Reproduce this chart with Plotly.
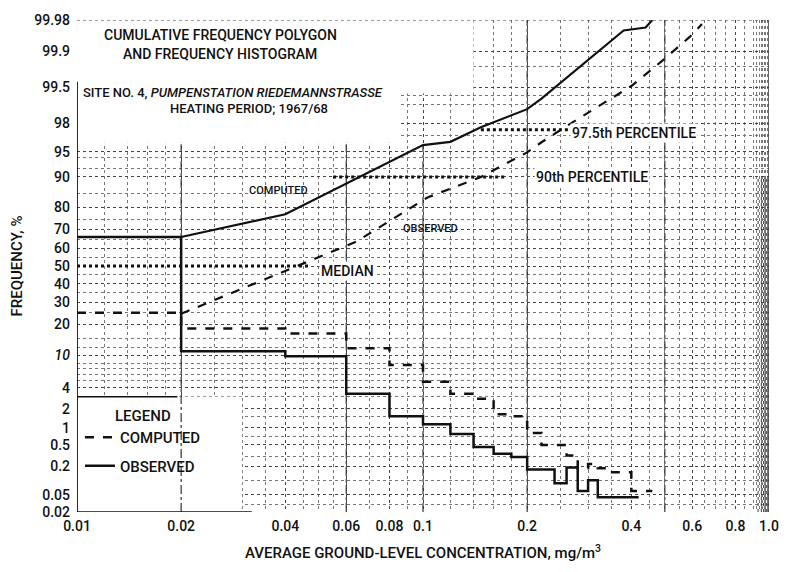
import plotly.graph_objects as go
from statistics import NormalDist

# ---------------- data ----------------
# frequency histogram, class edges (mg/m3) and frequency (%)
computed_edges = [0.01, 0.02, 0.04, 0.06, 0.08, 0.10, 0.12, 0.14, 0.16, 0.18, 0.20,
                  0.22, 0.26, 0.28, 0.30, 0.32, 0.34, 0.40, 0.46]
computed_freq = [25.0, 18.4, 16.6, 11.8, 7.7, 4.8, 3.3, 2.8, 1.64, 1.53, 0.81,
                 0.5, 0.32, 0.18, 0.22, 0.18, 0.15, 0.06]

observed_edges = [0.01, 0.02, 0.04, 0.06, 0.08, 0.10, 0.12, 0.14, 0.16, 0.18, 0.20,
                  0.24, 0.26, 0.28, 0.30, 0.32, 0.42]
observed_freq = [66.2, 11.0, 9.7, 3.3, 1.53, 1.14, 0.78, 0.46, 0.345, 0.30, 0.17,
                 0.088, 0.187, 0.06, 0.102, 0.044]

# cumulative frequency polygons (%)
upper_cum_x = [0.02, 0.04, 0.10, 0.12, 0.147, 0.20, 0.22, 0.32, 0.38, 0.44, 0.46]
upper_cum_y = [66.2, 77.2, 95.9, 96.3, 97.7, 98.8, 99.2, 99.9, 99.965, 99.97, 99.98]
lower_cum_x = [0.02, 0.064, 0.103, 0.147, 0.20, 0.22, 0.26, 0.40, 0.49, 0.59, 0.64]
lower_cum_y = [24.6, 63.6, 83.8, 90.0, 94.9, 96.25, 97.8, 99.52, 99.84, 99.951, 99.975]

# percentile reference lines
percentiles = [50.0, 90.0, 97.5]
percentile_x0 = [0.01, 0.055, 0.147]
percentile_x1 = [0.047, 0.175, 0.27]

# axis ticks
y_tick_pct = [0.02, 0.05, 0.2, 0.5, 1, 2, 4, 10, 20, 30, 40, 50, 60, 70, 80, 90, 95, 98, 99.5, 99.9, 99.98]
y_tick_text = ["0.02", "0.05", "0.2", "0.5", "1", "2", "4", "<i>10</i>", "20", "30", "40", "50",
               "60", "70", "80", "90", "95", "98", "99.5", "99.9", "99.98"]
y_minor_pct = [0.03, 0.1, 0.3, 0.7, 1.5, 3, 5, 6, 7, 8, 12, 15, 25, 35, 45, 55, 65, 75, 85,
               92, 94, 97, 99, 99.3, 99.8]
x_tick_vals = [0.01, 0.02, 0.04, 0.06, 0.08, 0.1, 0.2, 0.4, 0.6, 0.8, 1.0]
x_tick_text = ["0.01", "0.02", "0.04", "0.06", "0.08", "0.1", "0.2", "0.4", "0.6", "0.8", "1.0"]
x_minor_vals = [0.012, 0.014, 0.016, 0.018, 0.025, 0.03, 0.035, 0.045, 0.05, 0.055, 0.07, 0.09,
                0.12, 0.14, 0.16, 0.18, 0.25, 0.3, 0.35, 0.45, 0.5, 0.55, 0.65, 0.7, 0.75,
                0.85, 0.9, 0.92, 0.94, 0.95, 0.96, 0.97, 0.98, 0.99]

# ---------------- helpers ----------------
nd = NormalDist()


def zq(p):
    return nd.inv_cdf(p / 100.0)


ZMAX = zq(99.98)
FONT = "Roboto, Liberation Sans Narrow, sans-serif"
INK = "#111111"

fig = go.Figure()

# histograms (step lines)
fig.add_trace(go.Scatter(
    x=computed_edges, y=[zq(v) for v in computed_freq + [computed_freq[-1]]],
    mode="lines", line=dict(color=INK, width=2.5, dash="dash", shape="hv"),
    name="COMPUTED", legendgroup="a", hoverinfo="skip"))
fig.add_trace(go.Scatter(
    x=observed_edges, y=[zq(v) for v in observed_freq + [observed_freq[-1]]],
    mode="lines", line=dict(color=INK, width=2.5, shape="hv"),
    name="OBSERVED", legendgroup="b", hoverinfo="skip"))

# cumulative polygons
fig.add_trace(go.Scatter(
    x=upper_cum_x, y=[zq(v) for v in upper_cum_y], mode="lines",
    line=dict(color=INK, width=2.2), showlegend=False, hoverinfo="skip"))
fig.add_trace(go.Scatter(
    x=lower_cum_x, y=[zq(v) for v in lower_cum_y], mode="lines",
    line=dict(color=INK, width=2.2, dash="dash"), showlegend=False, hoverinfo="skip"))

# percentile lines
for p, a, b in zip(percentiles, percentile_x0, percentile_x1):
    fig.add_trace(go.Scatter(
        x=[a, b], y=[zq(p), zq(p)], mode="lines",
        line=dict(color=INK, width=3, dash="dot"), showlegend=False, hoverinfo="skip"))

shapes = []
# white blank areas (title + legend) hiding the paper grid
shapes.append(dict(type="rect", xref="x", yref="y", layer="between",
                   x0=0.01, x1=0.14, y0=zq(99.35), y1=ZMAX,
                   fillcolor="white", line_width=0))
shapes.append(dict(type="rect", xref="x", yref="y", layer="between",
                   x0=0.01, x1=0.085, y0=zq(96.2), y1=ZMAX,
                   fillcolor="white", line_width=0))
shapes.append(dict(type="rect", xref="x", yref="y", layer="between",
                   x0=0.01, x1=0.03, y0=-ZMAX, y1=zq(3.0),
                   fillcolor="white", line_width=0))
# top dotted border
shapes.append(dict(type="line", xref="x", yref="y", layer="between",
                   x0=0.01, x1=1.0, y0=ZMAX, y1=ZMAX,
                   line=dict(color="#333", width=1.2, dash="dot")))
# heavier paper lines
for xv in [0.02, 0.06, 0.1, 0.2, 0.5]:
    shapes.append(dict(type="line", xref="x", yref="y", layer="between",
                       x0=xv, x1=xv, y0=-ZMAX, y1=zq(96) if xv < 0.15 else ZMAX,
                       line=dict(color="#333", width=1.2, dash="dashdot")))
# dense dark band near 1.0
for xv in [0.93, 0.95, 0.965, 0.975, 0.985, 0.993]:
    shapes.append(dict(type="line", xref="x", yref="y", layer="between",
                       x0=xv, x1=xv, y0=-ZMAX, y1=zq(90),
                       line=dict(color="#333", width=1, dash="dot")))
# left axis line and legend top rule
shapes.append(dict(type="line", xref="x", yref="y", x0=0.01, x1=0.01,
                   y0=-ZMAX, y1=zq(99.6), line=dict(color=INK, width=1.8)))
shapes.append(dict(type="line", xref="x", yref="y", x0=0.01, x1=0.0195,
                   y0=zq(3.0), y1=zq(3.0), line=dict(color=INK, width=1.5)))
# bottom axis line
shapes.append(dict(type="line", xref="x", yref="y", x0=0.01, x1=0.032,
                   y0=-ZMAX, y1=-ZMAX, line=dict(color=INK, width=1.5)))
# right edge
shapes.append(dict(type="line", xref="x", yref="y", x0=1.0, x1=1.0,
                   y0=-ZMAX, y1=ZMAX, line=dict(color="#333", width=1.5)))

annotations = []


def px(xp):
    return (xp - 77) / 701.0


def py(yp):
    return (512 - yp) / 499.0


def txt(xp, yp, s, size=14, xanchor="center", **kw):
    annotations.append(dict(x=px(xp), y=py(yp), xref="paper", yref="paper", text=s,
                            showarrow=False, xanchor=xanchor, yanchor="middle",
                            font=dict(family=FONT, size=size, color=INK, weight=500), **kw))


txt(222, 28, "CUMULATIVE FREQUENCY POLYGON", size=14)
txt(222, 47, "AND FREQUENCY HISTOGRAM", size=14)
txt(81, 87, "SITE NO. 4, <i>PUMPENSTATION RIEDEMANNSTRASSE</i>", size=13, xanchor="left")
txt(251, 103, "HEATING PERIOD; 1967/68", size=13)
txt(281, 186, "COMPUTED", size=11)
txt(435, 224, "OBSERVED", size=11)
txt(351, 268, "MEDIAN", size=14, bgcolor="white")
txt(599, 172, "90th PERCENTILE", size=14, bgcolor="white")
txt(641, 128, "97.5th PERCENTILE", size=14, bgcolor="white")

fig.update_layout(
    width=791, height=572,
    margin=dict(l=77, r=13, t=13, b=60),
    paper_bgcolor="white", plot_bgcolor="white",
    font=dict(family=FONT, size=14, color=INK),
    shapes=shapes, annotations=annotations,
    showlegend=True,
    legend=dict(x=px(80), y=py(400), xanchor="left", yanchor="top",
                bgcolor="rgba(255,255,255,0)", borderwidth=0,
                title=dict(text="LEGEND", side="top center",
                           font=dict(family=FONT, size=15, weight=500)),
                font=dict(family=FONT, size=15, weight=500),
                traceorder="grouped", tracegroupgap=6),
)

fig.update_xaxes(
    type="log", range=[-2, 0],
    tickvals=x_tick_vals, ticktext=x_tick_text,
    tickfont=dict(family=FONT, size=14, weight=500), ticks="", ticklabelstandoff=4,
    showgrid=True, gridcolor="#444", griddash="dot", gridwidth=1,
    minor=dict(tickvals=x_minor_vals, showgrid=True, gridcolor="#777", griddash="dot", gridwidth=1, ticks=""),
    showline=False, zeroline=False,
    title=dict(text="AVERAGE GROUND-LEVEL CONCENTRATION, mg/m<sup>3</sup>",
               font=dict(family=FONT, size=15, weight=500), standoff=14),
)
fig.update_yaxes(
    range=[-ZMAX, ZMAX],
    tickvals=[zq(v) for v in y_tick_pct], ticktext=y_tick_text,
    tickfont=dict(family=FONT, size=14, weight=500), ticks="", ticklabelstandoff=6,
    showgrid=True, gridcolor="#444", griddash="dot", gridwidth=1,
    minor=dict(tickvals=[zq(v) for v in y_minor_pct], showgrid=True, gridcolor="#777",
               griddash="dot", gridwidth=1, ticks=""),
    showline=False, zeroline=False,
    title=dict(text="FREQUENCY, %", font=dict(family=FONT, size=15, weight=500), standoff=8),
)

fig.write_html("out.html")
